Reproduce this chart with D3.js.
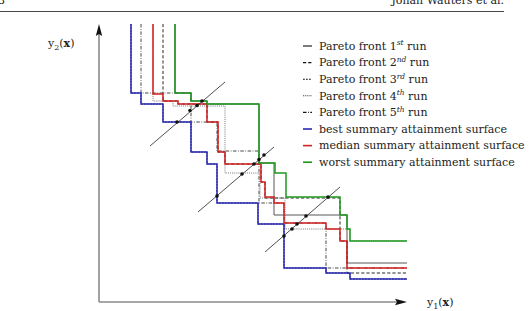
<!DOCTYPE html>
<html><head><meta charset="utf-8">
<script src="https://cdn.jsdelivr.net/npm/d3@7/dist/d3.min.js"></script>
<style>body{margin:0;background:#fff}svg{display:block}</style>
</head><body>
<script>
// ---- data (arbitrary objective units) ----
const TOP = 278, RIGHT = 308;
const front1 = [[76,209],[92,201],[108,198],[160,139],[175,87],[248,39]];
const front2 = [[64,201],[79,198],[108,180],[119,150],[126,138],[162,120],[166,104],[241,61],[248,29]];
const front3 = [[32,209],[42,198],[64,180],[92,150],[108,138],[118,99],[159,78],[185,34],[227,29],[251,23]];
const front4 = [[54,201],[74,196],[126,129],[161,104],[186,73],[251,61]];
const front5 = [[42,209],[92,180],[118,151],[160,99],[185,79],[227,34]];
const bestSurface   = [[32,209],[42,198],[64,180],[92,150],[108,138],[118,99],[159,78],[185,34],[227,29],[251,23]];
const medianSurface = [[54,208],[64,201],[79,198],[108,180],[119,150],[126,138],[162,120],[166,105],[175,99],[185,79],[227,73],[241,61],[248,34]];
const worstSurface  = [[76,209],[92,201],[108,198],[160,139],[176,129],[187,105],[241,87],[248,73],[251,61]];
const diagonals = [[[51,156],[126,220]],[[99,90],[175,155]],[[166,50],[241,115]]];
const crossPoints = [[78,180],[91,191.5],[98,196.5],[103,201],
  [118,106],[143,128],[155,138],[160,142.5],[165,147],
  [185,66],[193,73],[198,78],[207,86],[229,105]];
const legendLabels = [
  ["Pareto front 1","st"," run"],["Pareto front 2","nd"," run"],["Pareto front 3","rd"," run"],
  ["Pareto front 4","th"," run"],["Pareto front 5","th"," run"],
  ["best summary attainment surface"],["median summary attainment surface"],["worst summary attainment surface"]];

const W = 531, H = 311;
const svg = d3.select("body").append("svg").attr("width", W).attr("height", H);
const x = d3.scaleLinear().domain([0, 308]).range([99, 407]);
const y = d3.scaleLinear().domain([0, 278]).range([302, 24]);

// header
svg.append("line").attr("x1",0).attr("x2",504).attr("y1",11.5).attr("y2",11.5).attr("stroke","#333").attr("stroke-width",0.9);
svg.append("text").attr("x",504).attr("y",4).attr("text-anchor","end").attr("font-family","DejaVu Serif").attr("font-size",11).attr("fill","#222").text("Johan Wauters et al.");
svg.append("text").attr("x",-2).attr("y",4).attr("font-family","DejaVu Serif").attr("font-size",11).attr("fill","#222").text("3");

// axes
const axisCol = "#8a8a8a";
svg.append("line").attr("x1",x(0)).attr("x2",x(0)).attr("y1",y(0)).attr("y2",y(268)).attr("stroke",axisCol).attr("stroke-width",1.6);
svg.append("line").attr("x1",x(0)).attr("x2",x(298)).attr("y1",y(0)).attr("y2",y(0)).attr("stroke",axisCol).attr("stroke-width",1.6);
svg.append("path").attr("d",`M${x(0)},${y(278)} L${x(0)-3.2},${y(266)} L${x(0)},${y(268)} L${x(0)+3.2},${y(266)} Z`).attr("fill","#111");
svg.append("path").attr("d",`M${x(308)},${y(0)} L${x(296)},${y(0)-3.2} L${x(298)},${y(0)} L${x(296)},${y(0)+3.2} Z`).attr("fill","#111");

function axLabel(px, py, sub){
  const t = svg.append("text").attr("x",px).attr("y",py).attr("font-family","DejaVu Serif").attr("font-size",11).attr("fill","#222");
  t.append("tspan").text("y");
  t.append("tspan").attr("font-size",8).attr("dy",3).text(sub);
  t.append("tspan").attr("dy",-3).text("(");
  t.append("tspan").attr("font-weight","bold").text("x");
  t.append("tspan").text(")");
}
axLabel(48, 47, "2");
axLabel(427, 306, "1");

const stepLine = d3.line().x(d=>x(d[0])).y(d=>y(d[1])).curve(d3.curveStepAfter);
function stepPts(pts){ return [[pts[0][0], TOP], ...pts, [RIGHT, pts[pts.length-1][1]]]; }

const frontStyles = [
  {data: front1, dash: null, col: "#444", w: 0.9},
  {data: front2, dash: "3.2,2", col: "#111", w: 0.9},
  {data: front3, dash: "1.8,1.2", col: "#111", w: 0.9},
  {data: front4, dash: "0.8,1.1", col: "#555", w: 0.9},
  {data: front5, dash: "3.5,1.5,0.8,1.5", col: "#333", w: 0.9}
];
const surfStyles = [
  {data: bestSurface, col: "#2a2ab8"},
  {data: medianSurface, col: "#d42020"},
  {data: worstSurface, col: "#1e9a1e"}
];
// fronts first, surfaces drawn over them
frontStyles.forEach(s => svg.append("path").attr("d", stepLine(stepPts(s.data))).attr("fill","none").attr("stroke",s.col).attr("stroke-width",s.w).attr("stroke-dasharray",s.dash));
surfStyles.forEach(s => svg.append("path").attr("d", stepLine(stepPts(s.data))).attr("fill","none").attr("stroke",s.col).attr("stroke-width",1.5));

// diagonals and crossings
diagonals.forEach(dg => svg.append("line").attr("x1",x(dg[0][0])).attr("y1",y(dg[0][1])).attr("x2",x(dg[1][0])).attr("y2",y(dg[1][1])).attr("stroke","#222").attr("stroke-width",0.8));
svg.selectAll("circle.cp").data(crossPoints).enter().append("circle").attr("cx",d=>x(d[0])).attr("cy",d=>y(d[1])).attr("r",1.8).attr("fill","#111");

// legend
const lg = svg.append("g");
const legStyles = [...frontStyles.map(s=>({col:"#111", dash:s.dash, w:1.1})), ...surfStyles.map(s=>({col:s.col, dash:null, w:1.6}))];
legendLabels.forEach((lab, i) => {
  const cy = 46 + i*16.6;
  lg.append("line").attr("x1",303).attr("x2",312).attr("y1",cy).attr("y2",cy).attr("stroke",legStyles[i].col).attr("stroke-width",legStyles[i].w).attr("stroke-dasharray",legStyles[i].dash);
  const t = lg.append("text").attr("x",319).attr("y",cy+3.8).attr("font-family","DejaVu Serif").attr("font-size",11).attr("fill","#222");
  t.append("tspan").text(lab[0]);
  if (lab.length > 1) {
    t.append("tspan").attr("font-size",7.5).attr("font-style","italic").attr("dy",-4.5).text(lab[1]);
    t.append("tspan").attr("dy",4.5).text(lab[2]);
  }
});
</script>
</body></html>
